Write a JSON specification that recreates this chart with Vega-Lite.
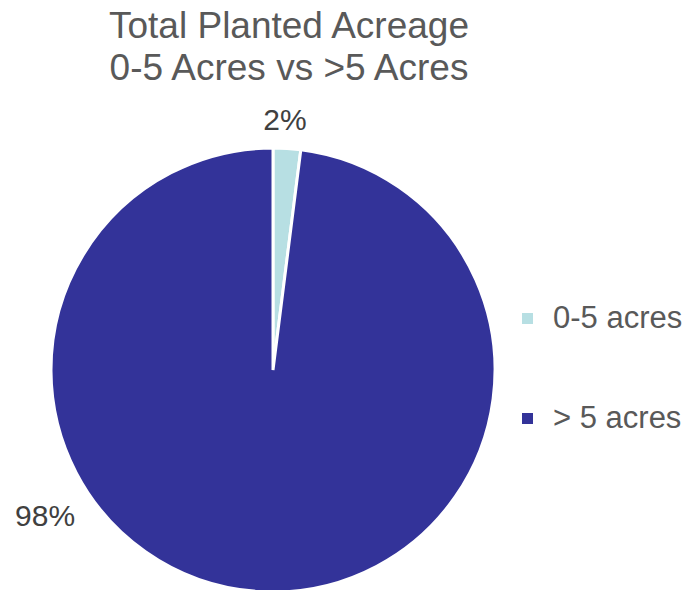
{
  "$schema": "https://vega.github.io/schema/vega-lite/v6.json",
  "autosize": "none",
  "width": 546,
  "height": 444,
  "padding": {"left": 0, "top": 148, "right": 142, "bottom": 0},
  "background": "white",
  "title": {
    "text": ["Total Planted Acreage", "0-5 Acres vs >5 Acres"],
    "font": "Liberation Sans",
    "fontSize": 37,
    "fontWeight": "normal",
    "color": "#595959",
    "lineHeight": 42,
    "anchor": "middle",
    "frame": "group",
    "dx": 16,
    "offset": 18
  },
  "data": {
    "values": [
      {"category": "0-5 acres", "share": 2, "label": "2%"},
      {"category": "> 5 acres", "share": 98, "label": "98%"}
    ]
  },
  "encoding": {
    "theta": {"field": "share", "type": "quantitative", "stack": true}
  },
  "layer": [
    {
      "mark": {"type": "arc", "outerRadius": 222, "stroke": "white", "strokeWidth": 3},
      "encoding": {
        "color": {
          "field": "category",
          "type": "nominal",
          "scale": {"domain": ["0-5 acres", "> 5 acres"], "range": ["#B7DFE3", "#333399"]},
          "legend": {
            "title": null,
            "orient": "none",
            "legendX": 512,
            "legendY": 155,
            "padding": 0,
            "symbolType": "square",
            "symbolSize": 121,
            "symbolStrokeWidth": 0,
            "labelFont": "Liberation Sans",
            "labelFontSize": 31,
            "labelColor": "#595959",
            "labelOffset": 10,
            "labelLimit": 200,
            "rowPadding": 68
          }
        }
      }
    },
    {
      "mark": {"type": "text", "radius": 249, "font": "Liberation Sans", "fontSize": 30, "color": "#404040", "thetaOffset": -0.015},
      "encoding": {
        "detail": {"field": "category"},
        "text": {"field": "label"},
        "opacity": {"condition": {"test": "datum.category === '0-5 acres'", "value": 1}, "value": 0}
      }
    },
    {
      "mark": {"type": "text", "radius": 271, "font": "Liberation Sans", "fontSize": 30, "color": "#404040", "thetaOffset": 0.936},
      "encoding": {
        "detail": {"field": "category"},
        "text": {"field": "label"},
        "opacity": {"condition": {"test": "datum.category === '> 5 acres'", "value": 1}, "value": 0}
      }
    }
  ],
  "config": {"view": {"stroke": null}}
}
